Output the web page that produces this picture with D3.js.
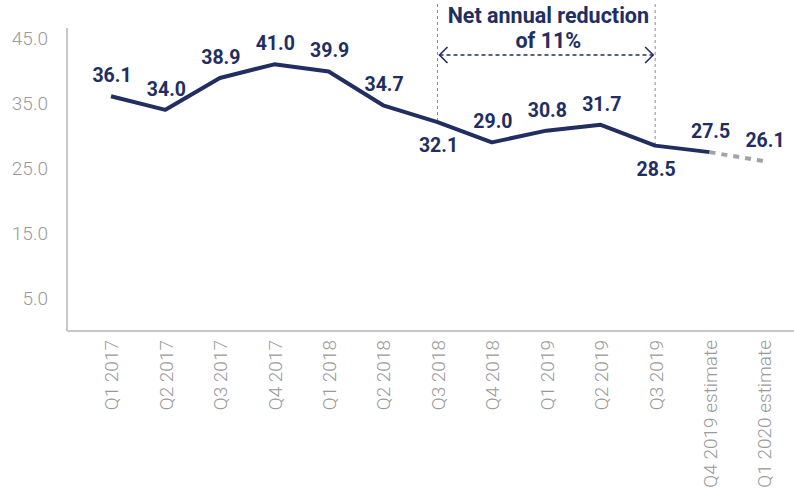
<!DOCTYPE html>
<html>
<head>
<meta charset="utf-8">
<script src="https://cdn.jsdelivr.net/npm/d3@7"></script>
<style>
  html, body { margin: 0; padding: 0; background: #fff; }
  svg { display: block; }
</style>
</head>
<body>
<svg id="chart" width="794" height="503"></svg>
<script>
// Quarterly figures with the two estimated quarters at the end
const categories = ["Q1 2017", "Q2 2017", "Q3 2017", "Q4 2017", "Q1 2018", "Q2 2018",
  "Q3 2018", "Q4 2018", "Q1 2019", "Q2 2019", "Q3 2019", "Q4 2019 estimate", "Q1 2020 estimate"];
const values = [36.1, 34.0, 38.9, 41.0, 39.9, 34.7, 32.1, 29.0, 30.8, 31.7, 28.5, 27.5, 26.1];
const estimateFrom = 11; // index where the estimated part begins
const yTicks = [5, 15, 25, 35, 45];
// label placement: "a" above the point, "b" below it
const labelSide = ["a", "a", "a", "a", "a", "a", "b", "a", "a", "a", "b", "a", "a"];
const bracketFrom = "Q3 2018", bracketTo = "Q3 2019";
const noteLines = ["Net annual reduction", "of 11%"];

const navy = "#222e62";
const grey = "#a3a3a3";
const font = "Roboto, 'Noto Sans', sans-serif";

const svg = d3.select("#chart");

const x = d3.scalePoint().domain(categories).range([111, 764]);
const y = d3.scaleLinear().domain([0, 45]).range([331, 38.3]);

// axes frame
svg.append("line")
  .attr("x1", 67).attr("x2", 67).attr("y1", 28).attr("y2", y(0))
  .attr("stroke", "#b5b5b5").attr("stroke-width", 1.5);
svg.append("line")
  .attr("x1", 67).attr("x2", 794).attr("y1", y(0)).attr("y2", y(0))
  .attr("stroke", "#b5b5b5").attr("stroke-width", 1.5);

// y axis labels
const yAxis = svg.append("g")
  .attr("transform", "translate(48,0)")
  .call(d3.axisLeft(y).tickValues(yTicks).tickSize(0).tickPadding(0).tickFormat(d3.format(".1f")));
yAxis.select(".domain").remove();
yAxis.selectAll("text")
  .attr("font-family", font).attr("font-size", 19).attr("font-weight", 300)
  .attr("fill", "#9a9a9a");

// x axis labels, rotated
const xAxis = svg.append("g")
  .attr("transform", `translate(0,${y(0) + 9})`)
  .call(d3.axisBottom(x).tickSize(0).tickPadding(0));
xAxis.select(".domain").remove();
xAxis.selectAll("text")
  .attr("font-family", font).attr("font-size", 19).attr("font-weight", 300)
  .attr("fill", "#9a9a9a")
  .attr("text-anchor", "end")
  .attr("transform", "rotate(-90)")
  .attr("x", 0).attr("y", 0).attr("dy", "0.36em");

// bracket marking the annual period
const xa = x(bracketFrom), xb = x(bracketTo);
const ia = categories.indexOf(bracketFrom), ib = categories.indexOf(bracketTo);
[[xa, y(values[ia])], [xb, y(values[ib])]].forEach(([px, py]) => {
  svg.append("line")
    .attr("x1", px).attr("x2", px).attr("y1", 4).attr("y2", py)
    .attr("stroke", "#8c8c8c").attr("stroke-width", 1).attr("stroke-dasharray", "3,3");
});
const arrowY = 55;
svg.append("line")
  .attr("x1", xa + 2).attr("x2", xb - 2).attr("y1", arrowY).attr("y2", arrowY)
  .attr("stroke", navy).attr("stroke-width", 1.6).attr("stroke-dasharray", "4,3");
svg.append("path")
  .attr("d", `M${xa + 10},${arrowY - 8} L${xa + 2},${arrowY} L${xa + 10},${arrowY + 8}`)
  .attr("fill", "none").attr("stroke", navy).attr("stroke-width", 1.6);
svg.append("path")
  .attr("d", `M${xb - 10},${arrowY - 8} L${xb - 2},${arrowY} L${xb - 10},${arrowY + 8}`)
  .attr("fill", "none").attr("stroke", navy).attr("stroke-width", 1.6);
svg.append("text")
  .attr("x", (xa + xb) / 2).attr("y", 23)
  .attr("text-anchor", "middle")
  .attr("font-family", font).attr("font-size", 21.5).attr("font-weight", 700)
  .attr("fill", navy)
  .selectAll("tspan").data(noteLines).join("tspan")
  .attr("x", (xa + xb) / 2 + 2).attr("dy", (d, i) => i === 0 ? 0 : 25)
  .text(d => d);

// actual series
const line = d3.line().x(d => x(d.c)).y(d => y(d.v));
const pts = categories.map((c, i) => ({ c, v: values[i] }));
svg.append("path")
  .datum(pts.slice(0, estimateFrom + 1))
  .attr("d", line)
  .attr("fill", "none").attr("stroke", navy).attr("stroke-width", 4)
  .attr("stroke-linejoin", "round");
// estimated continuation
svg.append("path")
  .datum(pts.slice(estimateFrom))
  .attr("d", line)
  .attr("fill", "none").attr("stroke", grey).attr("stroke-width", 4)
  .attr("stroke-dasharray", "6,6");

// value labels
svg.append("g").selectAll("text").data(pts).join("text")
  .attr("x", d => x(d.c) + 1)
  .attr("y", (d, i) => labelSide[i] === "a" ? y(d.v) - 14 : y(d.v) + 30)
  .attr("text-anchor", "middle")
  .attr("font-family", font).attr("font-size", 19.5).attr("font-weight", 700)
  .attr("fill", navy)
  .text(d => d3.format(".1f")(d.v));
</script>
</body>
</html>
